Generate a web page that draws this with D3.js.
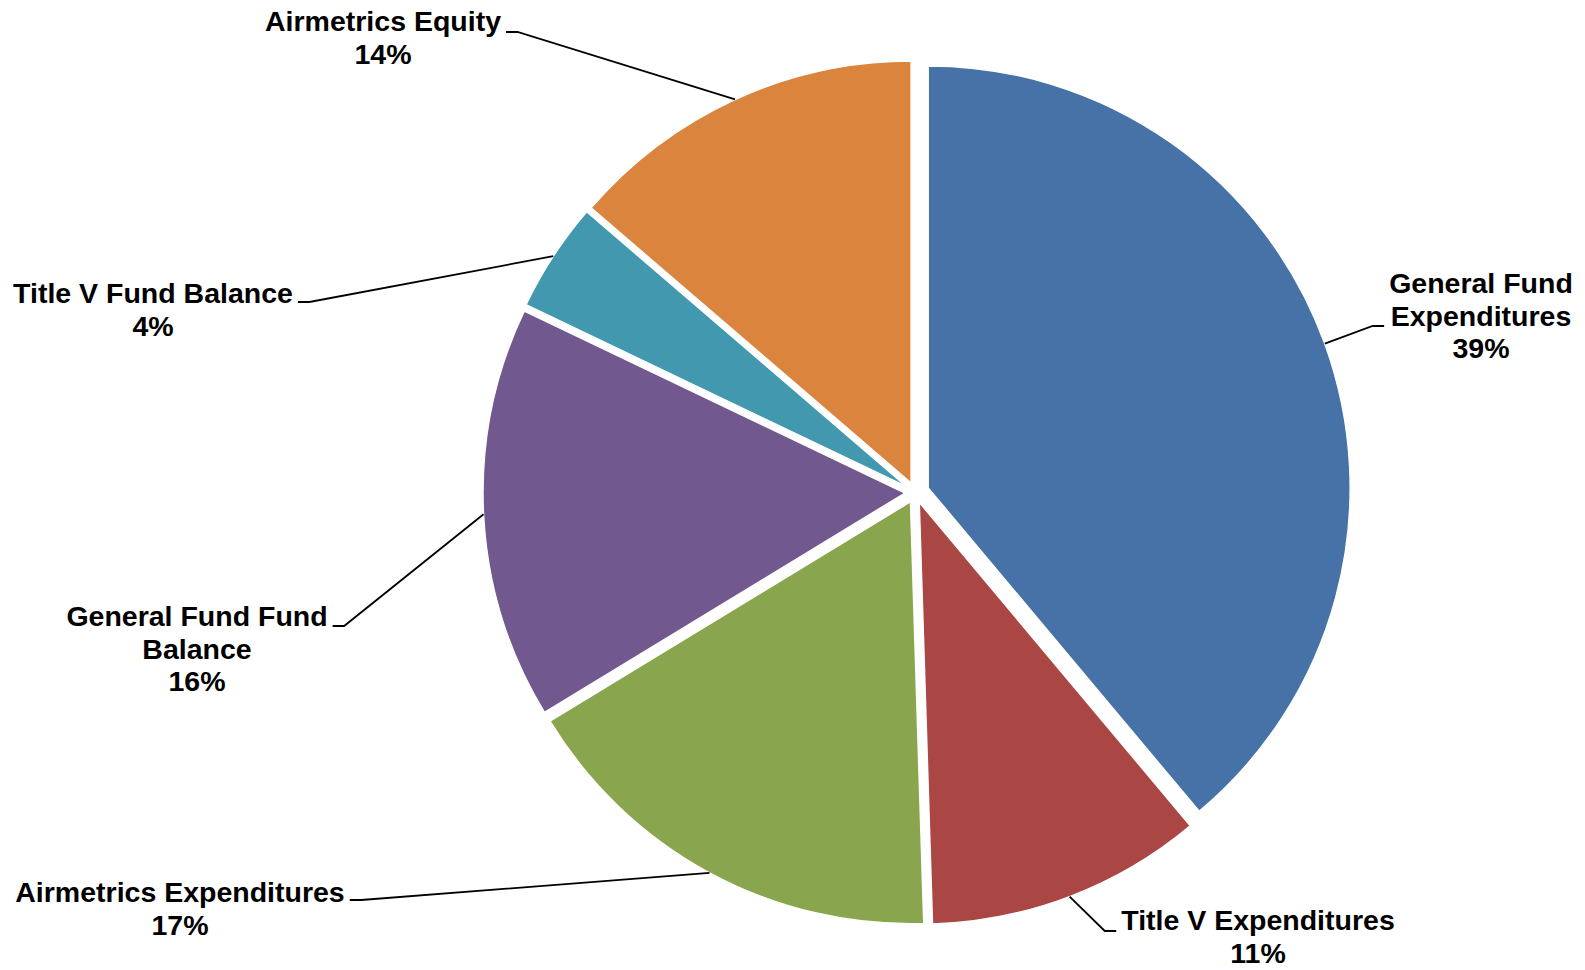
<!DOCTYPE html>
<html><head><meta charset="utf-8">
<script src="https://cdn.jsdelivr.net/npm/d3@7"></script>
<style>body{margin:0;background:#fff} svg{display:block}</style>
</head><body>
<svg id="chart" width="1585" height="970"></svg>
<script>
// ---- data ----
const categories = ["General Fund Expenditures","Title V Expenditures","Airmetrics Expenditures","General Fund Fund Balance","Title V Fund Balance","Airmetrics Equity"];
const values = [38.9, 10.6, 16.8, 15.8, 4.2, 13.7];
const labelLines = [["General Fund","Expenditures"],["Title V Expenditures"],["Airmetrics Expenditures"],["General Fund Fund","Balance"],["Title V Fund Balance"],["Airmetrics Equity"]];
const colors = ["#4672A7","#AA4644","#89A54E","#71588F","#4198AF","#DB843D"];

// ---- layout ----
const cx = 915.5, cy = 492.5, R = 422;
const explode = [13.5, 10.5, 10.5, 10.5, 10.5, 10.5];
const labelX = [1481, 1258, 180, 197, 153, 383];
const labelY = [293, 930, 902, 626, 303, 31];
const leaderY = [326, 931, 900, 626, 302, 32];
const lineH = 32.5;

const svg = d3.select("#chart");
const total = d3.sum(values);
const fmt = d3.format(".0%");
const pie = d3.pie().sort(null).value(d => d)(values);
const arc = d3.arc().innerRadius(0).outerRadius(R);

const g = svg.append("g").attr("transform", `translate(${cx},${cy})`);
pie.forEach((p, i) => {
  const mid = (p.startAngle + p.endAngle) / 2;
  const ox = Math.sin(mid) * explode[i], oy = -Math.cos(mid) * explode[i];
  g.append("path")
    .attr("d", arc(p))
    .attr("transform", `translate(${ox},${oy})`)
    .attr("fill", colors[i])
    .attr("stroke", "#fff")
    .attr("stroke-width", 1.5);
});

const labels = svg.append("g")
  .attr("font-family", "'Liberation Sans', Arial, sans-serif")
  .attr("font-weight", "bold")
  .attr("font-size", "28.5px")
  .attr("fill", "#000");

pie.forEach((p, i) => {
  const mid = (p.startAngle + p.endAngle) / 2;
  const ox = Math.sin(mid) * explode[i], oy = -Math.cos(mid) * explode[i];
  const ex = cx + ox + Math.sin(mid) * R, ey = cy + oy - Math.cos(mid) * R;
  const lines = labelLines[i].concat([fmt(values[i] / total)]);
  let maxW = 0;
  lines.forEach((t, k) => {
    const te = labels.append("text")
      .attr("x", labelX[i]).attr("y", labelY[i] + k * lineH)
      .attr("text-anchor", "middle").text(t);
    maxW = Math.max(maxW, te.node().getComputedTextLength());
  });
  const right = ex > cx;
  const edge = right ? labelX[i] - maxW / 2 : labelX[i] + maxW / 2;
  const s = right ? -1 : 1;
  const pts = [[ex, ey], [edge + s * 16.5, leaderY[i]], [edge + s * 5, leaderY[i]]];
  svg.append("path")
    .attr("d", d3.line()(pts))
    .attr("fill", "none").attr("stroke", "#000").attr("stroke-width", 1.8);
});
</script>
</body></html>
